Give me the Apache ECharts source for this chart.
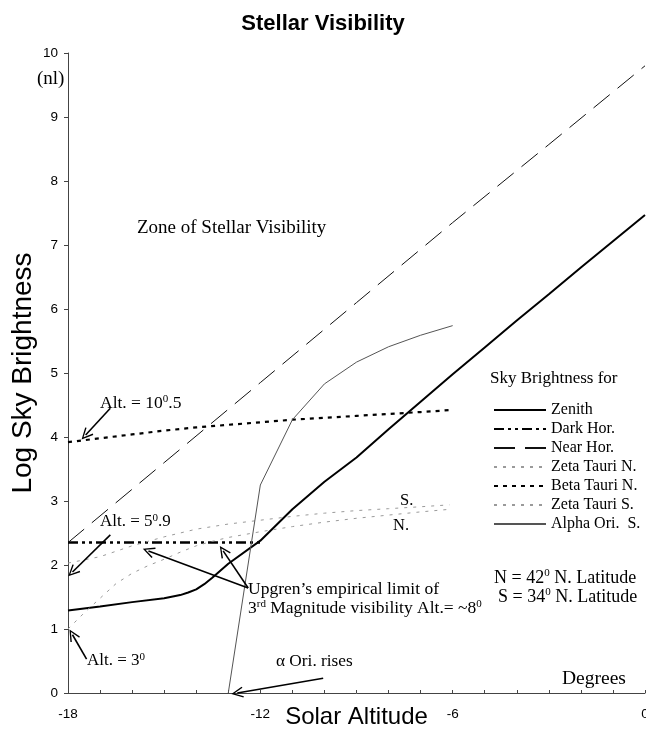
<!DOCTYPE html>
<html>
<head>
<meta charset="utf-8">
<script src="https://cdn.jsdelivr.net/npm/echarts@6/dist/echarts.min.js"></script>
<style>html,body{margin:0;padding:0;background:#fff}#c{width:646px;height:729px}</style>
</head>
<body>
<div id="c"></div>
<script>
// ---- data ----
const xTickLabels = [-18, -12, -6, 0];
const yTickLabels = [0, 1, 2, 3, 4, 5, 6, 7, 8, 9, 10];
const seriesNames = ['Zenith', 'Dark Hor.', 'Near Hor.', 'Zeta Tauri N.', 'Beta Tauri N.', 'Zeta Tauri S.', 'Alpha Ori.  S.'];
const zenith = [[-18,1.29],[-17,1.35],[-16,1.42],[-15,1.48],[-14.5,1.53],[-14.25,1.57],[-14,1.62],[-13.75,1.7],[-13.5,1.8],[-13.25,1.91],[-13,2.02],[-12,2.38],[-11,2.87],[-10,3.3],[-9,3.68],[-8,4.12],[-7,4.55],[-6,4.98],[-5,5.4],[-4,5.82],[-3,6.23],[-2,6.65],[-1,7.06],[0,7.47]];
const darkHor = [[-18,2.35],[-12,2.35]];
const nearHor = [[-18,2.35],[-15,3.6],[-12,4.85],[-9,6.1],[-6,7.35],[-3,8.57],[0,9.8]];
const zetaTauN = [[-18,1.0],[-17.5,1.25],[-17,1.48],[-16.5,1.71],[-16,1.87],[-15.5,1.99],[-15,2.09],[-14.5,2.2],[-14,2.3],[-13.5,2.37],[-13,2.43],[-12,2.52],[-11,2.6],[-10,2.67],[-9,2.73],[-8,2.78],[-7,2.83],[-6.1,2.87]];
const betaTauN = [[-18,3.92],[-17,3.98],[-16,4.04],[-15,4.1],[-14,4.15],[-13,4.19],[-12,4.23],[-11,4.27],[-10,4.3],[-9,4.33],[-8,4.36],[-7,4.39],[-6.1,4.42]];
const zetaTauS = [[-18,2.03],[-17,2.13],[-16,2.3],[-15,2.44],[-14,2.56],[-13,2.64],[-12,2.7],[-11,2.76],[-10,2.81],[-9,2.85],[-8,2.88],[-7,2.91],[-6.1,2.94]];
const alphaOriS = [[-13,0],[-12,3.25],[-11,4.27],[-10,4.83],[-9,5.17],[-8,5.41],[-7,5.59],[-6,5.74]];
// annotation arrows: [tail, head] in data coordinates
const arrows = [
  [[-16.68,4.45],[-17.45,4.03]],
  [[-16.68,2.47],[-17.86,1.89]],
  [[-17.42,0.53],[-17.86,0.91]],
  [[-12.38,1.64],[-15.49,2.22]],
  [[-12.38,1.64],[-13.16,2.22]],
  [[-10.04,0.23],[-12.72,0]]
];

const SERIF = 'Liberation Serif';
const SANS = 'Liberation Sans';
const chart = echarts.init(document.getElementById('c'), null, {renderer: 'canvas'});

function lineSeries(name, data, color, width, type) {
  return {
    name: name, type: 'line', data: data, symbol: 'none', showSymbol: false,
    lineStyle: {color: color, width: width, type: type, cap: 'butt'},
    itemStyle: {color: color}, z: 3, clip: false
  };
}
function richFor(size) {
  return {
    n: {fontFamily: SERIF, fontSize: size, lineHeight: size + 2, color: '#000'},
    s: {fontFamily: SERIF, fontSize: Math.round(size * 0.62), lineHeight: Math.round(size * 0.62), verticalAlign: 'top', color: '#000'}
  };
}
function txt(x, y, text, size) {
  return {
    type: 'text', x: x, y: y, silent: true,
    style: {text: text, fill: '#000', font: size + 'px "' + SERIF + '"', verticalAlign: 'middle', align: 'left', rich: richFor(size)}
  };
}
const vHead = 'path://M0,0 L6,10 L4.6,10.6 L0,2.6 L-4.6,10.6 L-6,10 Z';

const option = {
  animation: false,
  backgroundColor: '#fff',
  title: {
    text: 'Stellar Visibility', left: 'center', top: 8,
    textStyle: {fontFamily: SANS, fontWeight: 'bold', fontSize: 22, color: '#000'}
  },
  grid: {left: 68, right: 1, top: 53, bottom: 36, containLabel: false, outerBoundsMode: 'none'},
  xAxis: {
    type: 'value', min: -18, max: 0, interval: 1,
    name: 'Solar Altitude', nameLocation: 'middle', nameGap: 12, nameMoveOverlap: false,
    nameTextStyle: {fontFamily: SANS, fontSize: 24, color: '#000'},
    axisLine: {onZero: false, lineStyle: {color: '#444', width: 1}},
    axisTick: {inside: true, length: 3, lineStyle: {color: '#444'}},
    axisLabel: {
      margin: 14, fontFamily: SANS, fontSize: 13.5, color: '#000', showMinLabel: true, showMaxLabel: true,
      formatter: function (v) { return xTickLabels.indexOf(v) >= 0 ? String(v) : ''; }
    },
    splitLine: {show: false}
  },
  yAxis: {
    type: 'value', min: 0, max: 10, interval: 1, position: 'left',
    name: 'Log Sky Brightness', nameLocation: 'middle', nameGap: 31, nameRotate: 90, nameMoveOverlap: false,
    nameTextStyle: {fontFamily: SANS, fontSize: 28, color: '#000'},
    axisLine: {show: true, onZero: false, lineStyle: {color: '#444', width: 1}},
    axisTick: {show: true, inside: false, length: 4, lineStyle: {color: '#444'}},
    axisLabel: {
      margin: 10, fontFamily: SANS, fontSize: 13.5, color: '#000',
      formatter: function (v) { return yTickLabels.indexOf(v) >= 0 ? String(v) : ''; }
    },
    splitLine: {show: false}
  },
  legend: {
    data: seriesNames, orient: 'vertical', left: 488, top: 397,
    itemWidth: 52, itemHeight: 14, itemGap: 3,
    itemStyle: {opacity: 0},
    textStyle: {fontFamily: SERIF, fontSize: 16, color: '#000', lineHeight: 14},
    selectedMode: false
  },
  series: [
    lineSeries(seriesNames[0], zenith, '#000', 2, 'solid'),
    lineSeries(seriesNames[1], darkHor, '#000', 2.5, [10, 4, 3, 4, 3, 4]),
    lineSeries(seriesNames[2], nearHor, '#111', 1, [21, 10]),
    lineSeries(seriesNames[3], zetaTauN, '#9a9a9a', 1, [3, 6]),
    lineSeries(seriesNames[4], betaTauN, '#000', 2.2, [4, 5]),
    lineSeries(seriesNames[5], zetaTauS, '#9a9a9a', 1, [3, 6]),
    lineSeries(seriesNames[6], alphaOriS, '#555', 1, 'solid'),
    {
      name: 'annotations', type: 'line', data: [], symbol: 'none', clip: false, z: 5,
      markLine: {
        silent: true, animation: false, symbol: ['none', vHead], symbolSize: [11, 12],
        label: {show: false},
        lineStyle: {color: '#000', width: 1.6, type: 'solid'},
        data: arrows.map(function (a) { return [{coord: a[0]}, {coord: a[1]}]; })
      }
    }
  ],
  graphic: [
    txt(37, 79, '(nl)', 19),
    txt(137, 228, 'Zone of Stellar Visibility', 19),
    txt(100, 403, '{n|Alt. = 10}{s|0}{n|.5}', 17.5),
    txt(100, 522, '{n|Alt. = 5}{s|0}{n|.9}', 17),
    txt(87, 661, '{n|Alt. = 3}{s|0}', 17),
    txt(248, 589, "Upgren\u2019s empirical limit of", 17.5),
    txt(248, 608, '{n|3}{s|rd}{n| Magnitude visibility Alt.= ~8}{s|0}', 17.5),
    txt(276, 661, '\u03b1 Ori. rises', 17.3),
    txt(562, 679, 'Degrees', 19.5),
    txt(400, 501, 'S.', 16.5),
    txt(393, 526, 'N.', 16.5),
    txt(490, 379, 'Sky Brightness for', 17),
    txt(494, 578, '{n|N = 42}{s|0}{n| N. Latitude}', 18),
    txt(498, 597, '{n|S = 34}{s|0}{n| N. Latitude}', 18)
  ]
};
chart.setOption(option);
</script>
</body>
</html>
